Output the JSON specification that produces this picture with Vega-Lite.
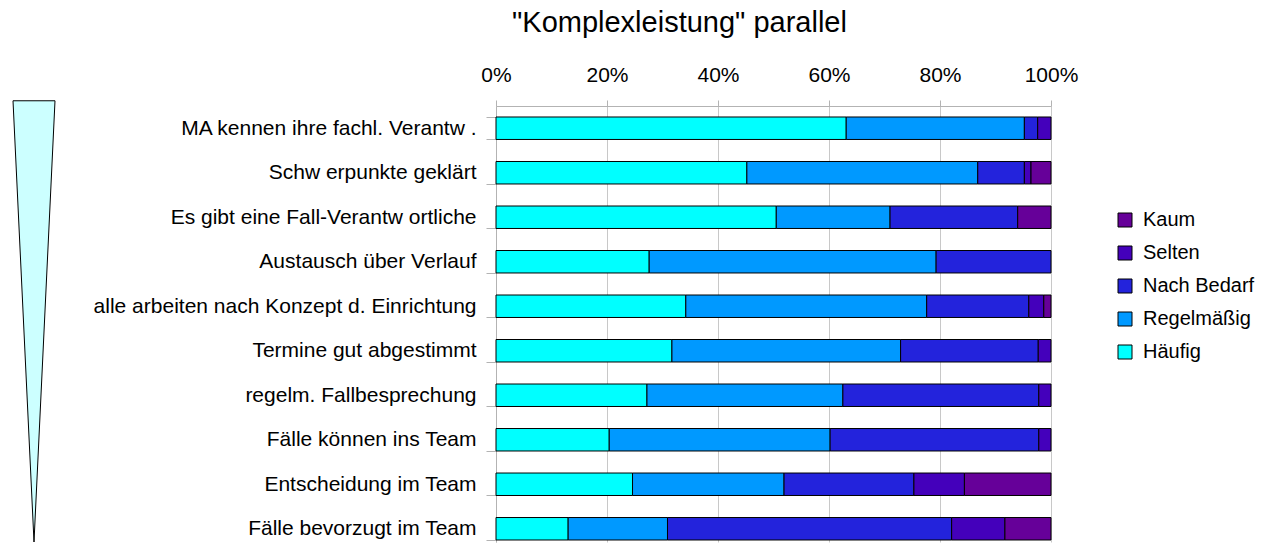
{
  "$schema": "https://vega.github.io/schema/vega-lite/v6.json",
  "padding": {"left": 11, "top": 9, "right": 5, "bottom": 0},
  "title": {"text": "\"Komplexleistung\" parallel", "fontSize": 29, "fontWeight": "normal", "color": "#000000", "anchor": "start", "dx": 501, "offset": 26},
  "config": {
    "font": "Liberation Sans",
    "view": {"stroke": null},
    "concat": {"spacing": 36}
  },
  "datasets": {
    "triangle": [
      {"level": 1.012, "left": 0, "right": 42},
      {"level": 0, "left": 21, "right": 21}
    ],
    "bars": [
      {"item": "MA kennen ihre fachl. Verantw .", "answer": "Häufig", "rank": 1, "pct": 63.1},
      {"item": "MA kennen ihre fachl. Verantw .", "answer": "Regelmäßig", "rank": 2, "pct": 32.1},
      {"item": "MA kennen ihre fachl. Verantw .", "answer": "Nach Bedarf", "rank": 3, "pct": 2.4},
      {"item": "MA kennen ihre fachl. Verantw .", "answer": "Selten", "rank": 4, "pct": 2.4},
      {"item": "Schw erpunkte geklärt", "answer": "Häufig", "rank": 1, "pct": 45.2},
      {"item": "Schw erpunkte geklärt", "answer": "Regelmäßig", "rank": 2, "pct": 41.6},
      {"item": "Schw erpunkte geklärt", "answer": "Nach Bedarf", "rank": 3, "pct": 8.4},
      {"item": "Schw erpunkte geklärt", "answer": "Selten", "rank": 4, "pct": 1.2},
      {"item": "Schw erpunkte geklärt", "answer": "Kaum", "rank": 5, "pct": 3.6},
      {"item": "Es gibt eine Fall-Verantw ortliche", "answer": "Häufig", "rank": 1, "pct": 50.5},
      {"item": "Es gibt eine Fall-Verantw ortliche", "answer": "Regelmäßig", "rank": 2, "pct": 20.5},
      {"item": "Es gibt eine Fall-Verantw ortliche", "answer": "Nach Bedarf", "rank": 3, "pct": 23.0},
      {"item": "Es gibt eine Fall-Verantw ortliche", "answer": "Kaum", "rank": 5, "pct": 6.0},
      {"item": "Austausch über Verlauf", "answer": "Häufig", "rank": 1, "pct": 27.6},
      {"item": "Austausch über Verlauf", "answer": "Regelmäßig", "rank": 2, "pct": 51.7},
      {"item": "Austausch über Verlauf", "answer": "Nach Bedarf", "rank": 3, "pct": 20.7},
      {"item": "alle arbeiten nach Konzept d. Einrichtung", "answer": "Häufig", "rank": 1, "pct": 34.2},
      {"item": "alle arbeiten nach Konzept d. Einrichtung", "answer": "Regelmäßig", "rank": 2, "pct": 43.4},
      {"item": "alle arbeiten nach Konzept d. Einrichtung", "answer": "Nach Bedarf", "rank": 3, "pct": 18.4},
      {"item": "alle arbeiten nach Konzept d. Einrichtung", "answer": "Selten", "rank": 4, "pct": 2.7},
      {"item": "alle arbeiten nach Konzept d. Einrichtung", "answer": "Kaum", "rank": 5, "pct": 1.3},
      {"item": "Termine gut abgestimmt", "answer": "Häufig", "rank": 1, "pct": 31.7},
      {"item": "Termine gut abgestimmt", "answer": "Regelmäßig", "rank": 2, "pct": 41.2},
      {"item": "Termine gut abgestimmt", "answer": "Nach Bedarf", "rank": 3, "pct": 24.8},
      {"item": "Termine gut abgestimmt", "answer": "Selten", "rank": 4, "pct": 2.3},
      {"item": "regelm. Fallbesprechung", "answer": "Häufig", "rank": 1, "pct": 27.2},
      {"item": "regelm. Fallbesprechung", "answer": "Regelmäßig", "rank": 2, "pct": 35.3},
      {"item": "regelm. Fallbesprechung", "answer": "Nach Bedarf", "rank": 3, "pct": 35.3},
      {"item": "regelm. Fallbesprechung", "answer": "Selten", "rank": 4, "pct": 2.2},
      {"item": "Fälle können ins Team", "answer": "Häufig", "rank": 1, "pct": 20.4},
      {"item": "Fälle können ins Team", "answer": "Regelmäßig", "rank": 2, "pct": 39.8},
      {"item": "Fälle können ins Team", "answer": "Nach Bedarf", "rank": 3, "pct": 37.6},
      {"item": "Fälle können ins Team", "answer": "Selten", "rank": 4, "pct": 2.2},
      {"item": "Entscheidung im Team", "answer": "Häufig", "rank": 1, "pct": 24.6},
      {"item": "Entscheidung im Team", "answer": "Regelmäßig", "rank": 2, "pct": 27.3},
      {"item": "Entscheidung im Team", "answer": "Nach Bedarf", "rank": 3, "pct": 23.4},
      {"item": "Entscheidung im Team", "answer": "Selten", "rank": 4, "pct": 9.1},
      {"item": "Entscheidung im Team", "answer": "Kaum", "rank": 5, "pct": 15.6},
      {"item": "Fälle bevorzugt im Team", "answer": "Häufig", "rank": 1, "pct": 13.0},
      {"item": "Fälle bevorzugt im Team", "answer": "Regelmäßig", "rank": 2, "pct": 17.9},
      {"item": "Fälle bevorzugt im Team", "answer": "Nach Bedarf", "rank": 3, "pct": 51.2},
      {"item": "Fälle bevorzugt im Team", "answer": "Selten", "rank": 4, "pct": 9.6},
      {"item": "Fälle bevorzugt im Team", "answer": "Kaum", "rank": 5, "pct": 8.3}
    ]
  },
  "hconcat": [
    {
      "width": 42,
      "height": 436,
      "data": {"name": "triangle"},
      "mark": {"type": "area", "orient": "horizontal", "fill": "#ccffff", "stroke": "#000000", "strokeWidth": 1, "clip": false},
      "encoding": {
        "y": {"field": "level", "type": "quantitative", "scale": {"domain": [0, 1], "nice": false, "zero": false}, "axis": null},
        "x": {"field": "left", "type": "quantitative", "scale": {"domain": [0, 42], "nice": false, "zero": false}, "axis": null},
        "x2": {"field": "right"}
      }
    },
    {
      "width": 555,
      "height": 436,
      "data": {"name": "bars"},
      "mark": {"type": "bar", "stroke": "#000000", "strokeWidth": 1},
      "encoding": {
        "y": {
          "field": "item", "type": "nominal", "sort": null,
          "scale": {"paddingInner": 0.495, "paddingOuter": 0.146, "align": 0.846},
          "axis": {"title": null, "labelFontSize": 21, "labelColor": "#000000", "labelPadding": 10, "tickSize": 10, "tickColor": "#b3b3b3", "domainColor": "#b3b3b3", "tickBand": "extent", "labelLimit": 500}
        },
        "x": {
          "field": "pct", "type": "quantitative", "stack": "normalize",
          "scale": {"domain": [0, 1]},
          "axis": {"orient": "top", "title": null, "format": ".0%", "values": [0, 0.2, 0.4, 0.6, 0.8, 1], "labelFontSize": 21, "labelColor": "#000000", "labelPadding": 15, "tickSize": 6, "tickColor": "#b3b3b3", "domainColor": "#b3b3b3", "gridColor": "#c8c8c8", "gridOpacity": 1, "labelFlush": false}
        },
        "color": {
          "field": "answer", "type": "nominal",
          "scale": {"domain": ["Kaum", "Selten", "Nach Bedarf", "Regelmäßig", "Häufig"], "range": ["#660099", "#4400bb", "#2323dc", "#0099ff", "#00ffff"]},
          "legend": {"title": null, "orient": "none", "legendX": 1102, "legendY": 104, "symbolType": "square", "symbolSize": 196, "symbolStrokeColor": "#000000", "symbolStrokeWidth": 1, "symbolOpacity": 1, "labelFontSize": 20, "labelColor": "#000000", "rowPadding": 13, "labelOffset": 8}
        },
        "order": {"field": "rank", "type": "quantitative"}
      }
    }
  ]
}
